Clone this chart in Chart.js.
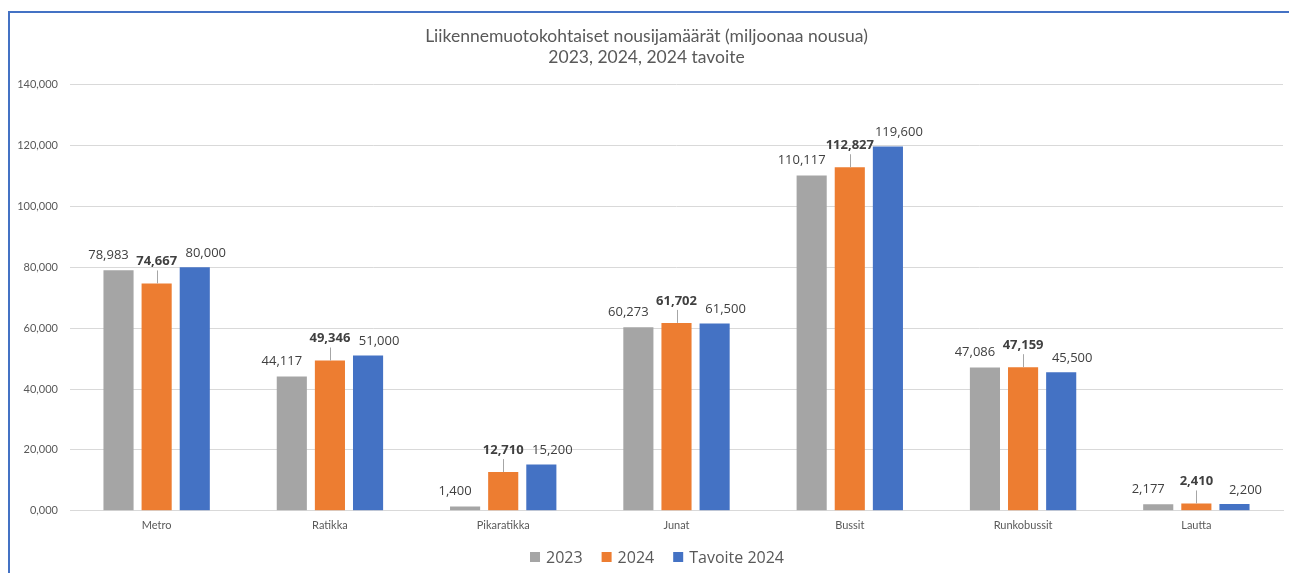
<!DOCTYPE html>
<html>
<head>
<meta charset="utf-8">
<script src="https://cdn.jsdelivr.net/npm/chart.js@4.4.1/dist/chart.umd.min.js"></script>
<style>
  html, body { margin: 0; padding: 0; background: #fff; overflow: hidden; }
  body { width: 1289px; height: 573px; position: relative; }
  #frame { position: absolute; left: 8px; top: 11px; width: 1300px; height: 570px;
           border-left: 2px solid #4472C4; border-top: 2px solid #4472C4; }
  #wrap { position: absolute; left: 10px; top: 13px; width: 1292px; height: 560px; }
</style>
</head>
<body>
<div id="frame"></div>
<div id="wrap"><canvas id="c" width="1292" height="560"></canvas></div>
<script>
const categories = ['Metro', 'Ratikka', 'Pikaratikka', 'Junat', 'Bussit', 'Runkobussit', 'Lautta'];
const values2023 = [78983, 44117, 1400, 60273, 110117, 47086, 2177];
const values2024 = [74667, 49346, 12710, 61702, 112827, 47159, 2410];
const valuesTarget = [80000, 51000, 15200, 61500, 119600, 45500, 2200];
const seriesNames = ['2023', '2024', 'Tavoite 2024'];
const yTickLabels = ['0,000', '20,000', '40,000', '60,000', '80,000', '100,000', '120,000', '140,000'];
const titleLines = ['Liikennemuotokohtaiset nousijamäärät (miljoonaa nousua)', '2023, 2024, 2024 tavoite'];

const fmt = v => v.toLocaleString('en-US');

const labelPlugin = {
  id: 'barLabels',
  afterDatasetsDraw(chart) {
    const ctx = chart.ctx;
    const dx = [-10, 0, 11];
    const dy = [15, 22, 14];
    chart.data.datasets.forEach((ds, i) => {
      const meta = chart.getDatasetMeta(i);
      meta.data.forEach((bar, j) => {
        const bold = i === 1;
        ctx.save();
        ctx.font = (bold ? 'bold ' : '') + '13px "Open Sans"';
        ctx.fillStyle = '#404040';
        ctx.textAlign = 'center';
        ctx.textBaseline = 'middle';
        const ty = bar.y - dy[i];
        ctx.fillText(fmt(ds.data[j]), bar.x + dx[i], ty);
        if (bold) {
          ctx.strokeStyle = '#a6a6a6';
          ctx.lineWidth = 1;
          ctx.beginPath();
          ctx.moveTo(Math.round(bar.x) + 0.5, ty + 9);
          ctx.lineTo(Math.round(bar.x) + 0.5, bar.y);
          ctx.stroke();
        }
        ctx.restore();
      });
    });
  }
};

const legendPlugin = {
  id: 'customLegend',
  afterDraw(chart) {
    const ctx = chart.ctx;
    ctx.save();
    ctx.font = '16px "Open Sans"';
    const box = 10, gap = 6, spacing = 19;
    const items = chart.data.datasets.map(d => ({ text: d.label, color: d.backgroundColor, w: ctx.measureText(d.label).width }));
    const total = items.reduce((s, it) => s + box + gap + it.w, 0) + spacing * (items.length - 1);
    let x = 647 - total / 2;
    const y = 544;
    ctx.textBaseline = 'middle';
    ctx.textAlign = 'left';
    items.forEach(it => {
      ctx.fillStyle = it.color;
      ctx.fillRect(x, y - box / 2, box, box);
      ctx.fillStyle = '#595959';
      ctx.fillText(it.text, x + box + gap, y + 1);
      x += box + gap + it.w + spacing;
    });
    ctx.restore();
  }
};

new Chart(document.getElementById('c'), {
  type: 'bar',
  data: {
    labels: categories,
    datasets: [
      { label: seriesNames[0], data: values2023, backgroundColor: '#A5A5A5' },
      { label: seriesNames[1], data: values2024, backgroundColor: '#ED7D31' },
      { label: seriesNames[2], data: valuesTarget, backgroundColor: '#4472C4' }
    ]
  },
  options: {
    responsive: false,
    animation: false,
    datasets: { bar: { categoryPercentage: 0.66, barPercentage: 0.79 } },
    layout: { padding: { left: 0, right: 19, top: 0, bottom: 33 } },
    plugins: {
      title: {
        display: true,
        text: titleLines,
        color: '#595959',
        font: { family: 'Lato', size: 17.5, weight: 'normal', lineHeight: 1.2 },
        padding: { top: 13, bottom: 16.5 }
      },
      legend: { display: false },
      tooltip: { enabled: false }
    },
    scales: {
      x: {
        grid: { display: false, drawTicks: false },
        border: { display: true, color: '#d9d9d9' },
        ticks: { color: '#595959', font: { family: 'Lato', size: 11 }, padding: 8 }
      },
      y: {
        min: 0, max: 140000,
        afterFit(scale) { scale.width = 60; },
        grid: { color: '#d9d9d9', drawTicks: false },
        border: { display: false },
        ticks: {
          stepSize: 20000,
          padding: 12,
          color: '#595959',
          font: { family: 'Lato', size: 11 },
          callback: (v, i) => yTickLabels[i]
        }
      }
    }
  },
  plugins: [labelPlugin, legendPlugin]
});
</script>
</body>
</html>
